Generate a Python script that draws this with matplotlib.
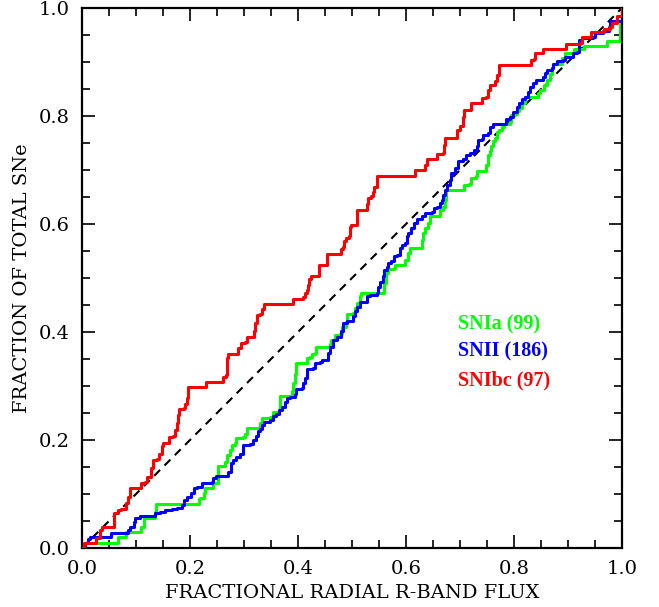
import matplotlib
matplotlib.use("Agg")
import matplotlib.pyplot as plt
from matplotlib.ticker import MultipleLocator

# ---- data (cumulative fraction vs fractional flux) ----
red_x = [0.0, 0.003, 0.0216, 0.025, 0.034, 0.037, 0.054, 0.059, 0.059, 0.065, 0.067, 0.073, 0.080,
         0.082, 0.085, 0.088, 0.0895, 0.108, 0.110, 0.117, 0.120, 0.127, 0.128, 0.131, 0.139, 0.143,
         0.148, 0.150, 0.160, 0.162, 0.169, 0.172, 0.175, 0.178, 0.179, 0.188, 0.191, 0.194, 0.196,
         0.228, 0.230, 0.259, 0.261, 0.267, 0.269, 0.270, 0.287, 0.289, 0.295, 0.302, 0.305, 0.316,
         0.319, 0.320, 0.324, 0.330, 0.333, 0.337, 0.390, 0.391, 0.410, 0.413, 0.416, 0.419, 0.421,
         0.424, 0.436, 0.438, 0.438, 0.450, 0.454, 0.454, 0.478, 0.479, 0.484, 0.486, 0.489, 0.495,
         0.496, 0.499, 0.507, 0.509, 0.510, 0.524, 0.527, 0.530, 0.536, 0.539, 0.541, 0.546, 0.546,
         0.615, 0.617, 0.632, 0.635, 0.638, 0.654, 0.658, 0.668, 0.670, 0.672, 0.691, 0.695, 0.700,
         0.705, 0.708, 0.720, 0.721, 0.737, 0.740, 0.749, 0.752, 0.756, 0.765, 0.769, 0.772, 0.827,
         0.831, 0.837, 0.839, 0.851, 0.854, 0.894, 0.896, 0.922, 0.925, 0.938, 0.942, 0.964, 0.967,
         0.978, 0.981, 0.990, 1.0]
red_y = [0.0, 0.0098, 0.0098, 0.019, 0.033, 0.039, 0.039, 0.055, 0.064, 0.064, 0.070, 0.072, 0.073,
         0.083, 0.095, 0.104, 0.112, 0.112, 0.121, 0.123, 0.132, 0.135, 0.148, 0.163, 0.164, 0.174,
         0.188, 0.194, 0.194, 0.206, 0.207, 0.219, 0.231, 0.246, 0.257, 0.259, 0.267, 0.277, 0.298,
         0.298, 0.308, 0.308, 0.317, 0.320, 0.351, 0.360, 0.360, 0.370, 0.380, 0.382, 0.391, 0.391,
         0.401, 0.416, 0.431, 0.434, 0.442, 0.452, 0.452, 0.462, 0.464, 0.472, 0.478, 0.487, 0.499,
         0.504, 0.504, 0.515, 0.524, 0.524, 0.536, 0.544, 0.544, 0.553, 0.558, 0.569, 0.575, 0.578,
         0.595, 0.598, 0.598, 0.617, 0.626, 0.626, 0.637, 0.648, 0.651, 0.660, 0.669, 0.672, 0.689,
         0.689, 0.700, 0.700, 0.709, 0.720, 0.720, 0.730, 0.731, 0.746, 0.760, 0.760, 0.774, 0.781,
         0.799, 0.812, 0.814, 0.824, 0.825, 0.833, 0.835, 0.848, 0.857, 0.864, 0.876, 0.894, 0.894,
         0.904, 0.905, 0.916, 0.916, 0.925, 0.925, 0.934, 0.936, 0.946, 0.947, 0.956, 0.956, 0.962,
         0.965, 0.973, 0.985, 1.0]

green_x = [0.0, 0.006, 0.006, 0.065, 0.067, 0.080, 0.082, 0.108, 0.110, 0.114, 0.133, 0.135, 0.137,
           0.213, 0.216, 0.2185, 0.225, 0.228, 0.240, 0.243, 0.252, 0.252, 0.262, 0.265, 0.268, 0.274,
           0.277, 0.283, 0.286, 0.299, 0.302, 0.305, 0.327, 0.330, 0.333, 0.349, 0.353, 0.364, 0.367,
           0.367, 0.385, 0.388, 0.391, 0.394, 0.397, 0.416, 0.417, 0.422, 0.425, 0.431, 0.433, 0.456,
           0.459, 0.462, 0.469, 0.478, 0.481, 0.489, 0.490, 0.502, 0.506, 0.509, 0.514, 0.516, 0.558,
           0.559, 0.563, 0.567, 0.577, 0.580, 0.596, 0.598, 0.604, 0.607, 0.626, 0.629, 0.632, 0.635,
           0.641, 0.644, 0.662, 0.663, 0.669, 0.672, 0.674, 0.706, 0.707, 0.717, 0.720, 0.730, 0.731,
           0.746, 0.748, 0.751, 0.752, 0.756, 0.757, 0.762, 0.765, 0.768, 0.773, 0.777, 0.781, 0.793,
           0.795, 0.802, 0.805, 0.810, 0.815, 0.820, 0.842, 0.845, 0.848, 0.855, 0.861, 0.866, 0.870,
           0.872, 0.885, 0.888, 0.894, 0.912, 0.912, 0.930, 0.930, 0.972, 0.972, 0.995, 0.996, 1.0]
green_y = [0.0, 0.0, 0.0087, 0.0087, 0.020, 0.020, 0.030, 0.030, 0.039, 0.055, 0.055, 0.067, 0.081,
           0.081, 0.090, 0.092, 0.101, 0.1105, 0.1105, 0.120, 0.129, 0.151, 0.151, 0.160, 0.172, 0.181,
           0.191, 0.194, 0.203, 0.205, 0.212, 0.222, 0.222, 0.231, 0.240, 0.242, 0.252, 0.256, 0.271,
           0.281, 0.281, 0.290, 0.305, 0.323, 0.342, 0.342, 0.351, 0.353, 0.360, 0.362, 0.373, 0.373,
           0.378, 0.385, 0.394, 0.396, 0.410, 0.419, 0.433, 0.435, 0.444, 0.453, 0.466, 0.473, 0.473,
           0.490, 0.509, 0.516, 0.518, 0.524, 0.524, 0.533, 0.546, 0.555, 0.555, 0.570, 0.583, 0.592,
           0.601, 0.614, 0.615, 0.626, 0.632, 0.644, 0.663, 0.663, 0.672, 0.675, 0.685, 0.688, 0.699,
           0.699, 0.710, 0.719, 0.728, 0.736, 0.744, 0.753, 0.759, 0.771, 0.774, 0.780, 0.786, 0.788,
           0.801, 0.804, 0.810, 0.815, 0.825, 0.836, 0.836, 0.842, 0.848, 0.857, 0.867, 0.878, 0.888,
           0.897, 0.897, 0.907, 0.916, 0.916, 0.925, 0.925, 0.929, 0.929, 0.938, 0.938, 0.970, 1.0]

blue_x = [0.0, 0.006, 0.012, 0.015, 0.052, 0.054, 0.083, 0.086, 0.0895, 0.096, 0.099, 0.108, 0.133,
          0.136, 0.145, 0.154, 0.167, 0.176, 0.185, 0.188, 0.194, 0.201, 0.207, 0.213, 0.222, 0.240,
          0.243, 0.248, 0.268, 0.271, 0.275, 0.280, 0.286, 0.293, 0.299, 0.311, 0.317, 0.322, 0.325,
          0.330, 0.333, 0.337, 0.348, 0.353, 0.360, 0.364, 0.370, 0.376, 0.380, 0.385, 0.394, 0.397,
          0.407, 0.410, 0.413, 0.416, 0.417, 0.428, 0.431, 0.441, 0.444, 0.453, 0.456, 0.459, 0.465,
          0.472, 0.479, 0.484, 0.490, 0.502, 0.506, 0.509, 0.515, 0.524, 0.527, 0.533, 0.546, 0.549,
          0.552, 0.557, 0.559, 0.564, 0.567, 0.573, 0.577, 0.583, 0.589, 0.592, 0.598, 0.601, 0.604,
          0.610, 0.614, 0.620, 0.629, 0.635, 0.648, 0.651, 0.657, 0.663, 0.666, 0.669, 0.672, 0.675,
          0.681, 0.684, 0.691, 0.697, 0.706, 0.712, 0.719, 0.725, 0.731, 0.734, 0.740, 0.743, 0.751,
          0.756, 0.762, 0.783, 0.786, 0.793, 0.799, 0.805, 0.810, 0.814, 0.820, 0.825, 0.830, 0.835,
          0.841, 0.853, 0.857, 0.861, 0.870, 0.873, 0.879, 0.890, 0.894, 0.906, 0.910, 0.916, 0.921,
          0.925, 0.947, 0.950, 0.965, 0.975, 0.978, 0.996, 1.0]
blue_y = [0.0, 0.0087, 0.016, 0.020, 0.020, 0.027, 0.027, 0.033, 0.039, 0.049, 0.055, 0.059, 0.059,
          0.064, 0.067, 0.070, 0.073, 0.075, 0.080, 0.089, 0.095, 0.101, 0.1105, 0.1135, 0.121, 0.123,
          0.129, 0.133, 0.133, 0.141, 0.157, 0.163, 0.169, 0.175, 0.191, 0.193, 0.200, 0.207, 0.216,
          0.220, 0.228, 0.234, 0.237, 0.244, 0.248, 0.256, 0.262, 0.271, 0.277, 0.280, 0.286, 0.294,
          0.296, 0.305, 0.314, 0.323, 0.331, 0.334, 0.342, 0.345, 0.348, 0.349, 0.362, 0.373, 0.386,
          0.391, 0.401, 0.416, 0.421, 0.429, 0.438, 0.447, 0.455, 0.456, 0.466, 0.469, 0.473, 0.484,
          0.493, 0.504, 0.515, 0.520, 0.527, 0.532, 0.540, 0.543, 0.555, 0.561, 0.564, 0.577, 0.583,
          0.592, 0.601, 0.610, 0.615, 0.620, 0.623, 0.629, 0.632, 0.638, 0.644, 0.654, 0.663, 0.672,
          0.681, 0.694, 0.703, 0.717, 0.720, 0.728, 0.731, 0.737, 0.744, 0.756, 0.757, 0.765, 0.769,
          0.780, 0.786, 0.786, 0.794, 0.799, 0.808, 0.817, 0.825, 0.831, 0.835, 0.845, 0.854, 0.862,
          0.867, 0.873, 0.879, 0.885, 0.888, 0.896, 0.901, 0.904, 0.909, 0.910, 0.916, 0.919, 0.941,
          0.944, 0.946, 0.953, 0.958, 0.965, 0.976, 0.976, 1.0]

labels = ["SNIa (99)", "SNII (186)", "SNIbc (97)"]
colors = ["#00ff00", "#0000ff", "#ff0000"]
xlabel = "FRACTIONAL RADIAL R-BAND FLUX"
ylabel = "FRACTION OF TOTAL SNe"

# ---- figure ----
fig = plt.figure(figsize=(6.59, 6.07), dpi=100)
ax = fig.add_axes([82/659, 59/607, 540/659, 540/607])

ax.plot([0, 1], [0, 1], color="black", lw=1.5, dashes=(4, 3), zorder=1)
ax.plot(green_x, green_y, drawstyle="steps-post", color=colors[0], lw=2.2, zorder=2)
ax.plot(blue_x, blue_y, drawstyle="steps-post", color=colors[1], lw=2.2, zorder=3)
ax.plot(red_x, red_y, drawstyle="steps-post", color=colors[2], lw=2.2, zorder=4)

ax.set_xlim(0, 1)
ax.set_ylim(0, 1)
ax.xaxis.set_major_locator(MultipleLocator(0.2))
ax.yaxis.set_major_locator(MultipleLocator(0.2))
ax.xaxis.set_minor_locator(MultipleLocator(0.05))
ax.yaxis.set_minor_locator(MultipleLocator(0.05))
ax.xaxis.set_major_formatter(plt.FormatStrFormatter("%.1f"))
ax.yaxis.set_major_formatter(plt.FormatStrFormatter("%.1f"))

font = "DejaVu Serif"
ax.tick_params(which="both", direction="in", top=True, right=True, width=1.2)
ax.tick_params(which="major", length=9.5)
ax.tick_params(which="minor", length=5.5)
ax.tick_params(axis="x", which="major", pad=9)
ax.tick_params(axis="y", which="major", pad=9)
for lab in ax.get_xticklabels() + ax.get_yticklabels():
    lab.set_fontfamily(font)
    lab.set_fontsize(14)
for s in ax.spines.values():
    s.set_linewidth(1.6)

ax.set_xlabel(xlabel, fontfamily=font, fontsize=14)
ax.xaxis.set_label_coords(0.5, -0.066)
ax.set_ylabel(ylabel, fontfamily=font, fontsize=14)
ax.yaxis.set_label_coords(-0.094, 0.5)

ys = [0.413, 0.363, 0.311]
for lab, c, yy in zip(labels, colors, ys):
    ax.text(0.696, yy, lab, color=c, fontsize=14.5, fontweight="bold",
            fontfamily="Liberation Serif", va="center", ha="left")

fig.savefig("out.png", dpi=100)
